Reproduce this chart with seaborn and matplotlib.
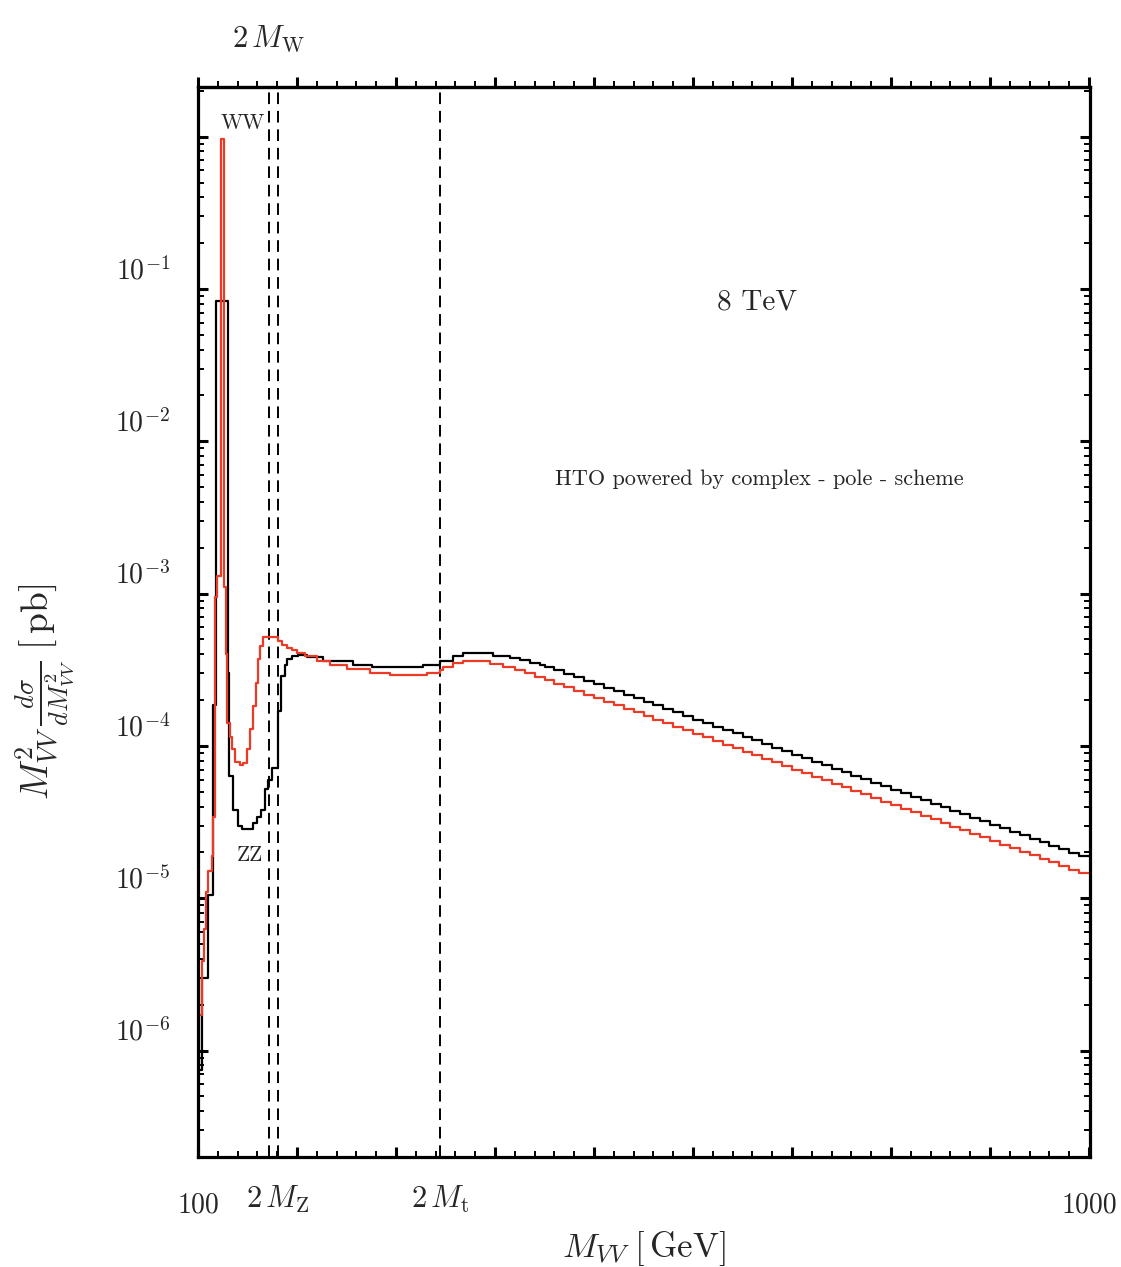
import numpy as np
import pandas as pd
import matplotlib
matplotlib.use("Agg")
from matplotlib import pyplot as plt
from matplotlib import ticker, transforms
import seaborn as sns

# ---- data (bin edges in GeV, bin contents in pb) ----
# red histogram (WW)
ww_edges_low = [100, 101.5, 104, 106, 108, 110, 114, 115.5, 117, 119, 123.5,
                126, 128, 129, 132.3, 134, 137.4, 142.4, 145.8, 149.2, 152.5,
                155.9, 158.3, 161, 162.6, 166, 181.1, 184.5, 189.6, 194.6,
                199.7, 208.1, 219.9, 233.3, 250.2, 273.7, 293.9, 331, 344.4,
                347.8, 357.9, 368, 395, 408.4]
ww_vals_low = [8.0e-7, 1.7e-6, 3.9e-6, 6.3e-6, 1.1e-5, 1.5e-5, 1.9e-5, 3.4e-5,
               9.5e-4, 1.3e-3, 0.97, 1.1e-3, 4.0e-4, 1.42e-4, 1.15e-4, 9.5e-5,
               7.9e-5, 7.5e-5, 7.7e-5, 9.5e-5, 1.3e-4, 1.83e-4, 2.6e-4, 3.7e-4,
               4.5e-4, 5.16e-4, 4.9e-4, 4.6e-4, 4.37e-4, 4.24e-4, 4.07e-4,
               3.9e-4, 3.6e-4, 3.4e-4, 3.2e-4, 3.0e-4, 2.92e-4, 3.03e-4,
               3.15e-4, 3.3e-4, 3.5e-4, 3.6e-4, 3.43e-4, 3.3e-4]
ww_tail_start = 420
ww_vals_tail = [3.17e-4, 3.01e-4, 2.85e-4, 2.70e-4, 2.56e-4, 2.42e-4, 2.29e-4,
                2.17e-4, 2.06e-4, 1.95e-4, 1.85e-4, 1.75e-4, 1.66e-4, 1.57e-4,
                1.49e-4, 1.41e-4, 1.34e-4, 1.27e-4, 1.20e-4, 1.14e-4, 1.08e-4,
                1.02e-4, 9.67e-5, 9.17e-5, 8.68e-5, 8.23e-5, 7.80e-5, 7.39e-5,
                7.00e-5, 6.63e-5, 6.28e-5, 5.95e-5, 5.64e-5, 5.34e-5, 5.06e-5,
                4.80e-5, 4.54e-5, 4.31e-5, 4.08e-5, 3.86e-5, 3.66e-5, 3.47e-5,
                3.29e-5, 3.11e-5, 2.95e-5, 2.80e-5, 2.65e-5, 2.51e-5, 2.38e-5,
                2.25e-5, 2.13e-5, 2.02e-5, 1.92e-5, 1.82e-5, 1.72e-5, 1.63e-5,
                1.54e-5, 1.46e-5]

# black histogram (ZZ)
zz_edges_low = [100, 104, 110, 115.5, 118, 130, 131, 135, 140.7, 144, 155.9,
                159.3, 163.6, 167.7, 171, 174.4, 181.1, 183.5, 187.9, 190.2,
                194.6, 201.4, 209.8, 226.6, 256.9, 275.4, 327.6, 344.4, 357.9,
                368, 398.3, 415, 425, 435, 445]
zz_vals_low = [7.5e-7, 3.0e-6, 1.05e-5, 1.85e-4, 0.083, 3.0e-4, 6.3e-5, 3.8e-5,
               3.0e-5, 2.85e-5, 3.1e-5, 3.4e-5, 3.8e-5, 5.2e-5, 6.0e-5, 7.2e-5,
               1.7e-4, 2.9e-4, 3.4e-4, 3.7e-4, 3.9e-4, 3.96e-4, 3.85e-4, 3.6e-4,
               3.4e-4, 3.3e-4, 3.4e-4, 3.6e-4, 3.9e-4, 4.07e-4, 3.9e-4, 3.8e-4,
               3.65e-4, 3.5e-4, 3.4e-4]
zz_tail_start = 450
zz_vals_tail = [3.31e-4, 3.14e-4, 2.98e-4, 2.82e-4, 2.68e-4, 2.54e-4, 2.41e-4,
                2.28e-4, 2.16e-4, 2.05e-4, 1.95e-4, 1.85e-4, 1.75e-4, 1.66e-4,
                1.57e-4, 1.49e-4, 1.42e-4, 1.34e-4, 1.27e-4, 1.21e-4, 1.14e-4,
                1.09e-4, 1.03e-4, 9.76e-5, 9.26e-5, 8.78e-5, 8.33e-5, 7.90e-5,
                7.49e-5, 7.10e-5, 6.73e-5, 6.39e-5, 6.06e-5, 5.74e-5, 5.45e-5,
                5.17e-5, 4.90e-5, 4.65e-5, 4.41e-5, 4.18e-5, 3.96e-5, 3.76e-5,
                3.56e-5, 3.38e-5, 3.20e-5, 3.04e-5, 2.88e-5, 2.73e-5, 2.59e-5,
                2.46e-5, 2.33e-5, 2.21e-5, 2.10e-5, 1.99e-5, 1.88e-5]

tail_width = 10
thresholds = [171.4, 180.5, 344.4]   # 2 M_W, 2 M_Z, 2 M_t lines as drawn

RED = "#ec3a25"


def step_frame(edges_low, vals_low, tail_start, vals_tail):
    tail_edges = tail_start + tail_width * np.arange(len(vals_tail) + 1)
    edges = np.concatenate([edges_low, tail_edges])
    vals = np.concatenate([vals_low, vals_tail, [vals_tail[-1]]])
    return pd.DataFrame({"mvv": edges, "xsec": vals})


ww_df = step_frame(ww_edges_low, ww_vals_low, ww_tail_start, ww_vals_tail)
zz_df = step_frame(zz_edges_low, zz_vals_low, zz_tail_start, zz_vals_tail)

#%%
sns.set_style("ticks")
plt.rcParams.update({
    "font.family": "serif",
    "font.serif": ["cmr10", "DejaVu Serif"],
    "mathtext.fontset": "cm",
    "axes.unicode_minus": False,
    "axes.formatter.use_mathtext": True,
})

fig = plt.figure(figsize=(11.21, 12.67), dpi=100)
ax = fig.add_axes([198 / 1121, 1 - 1157 / 1267, 892 / 1121, 1070 / 1267])
ax.set_yscale("log")

sns.lineplot(data=zz_df, x="mvv", y="xsec", drawstyle="steps-post",
             color="black", lw=1.6, estimator=None, sort=False, ax=ax)
sns.lineplot(data=ww_df, x="mvv", y="xsec", drawstyle="steps-post",
             color=RED, lw=1.6, estimator=None, sort=False, ax=ax)

for xt in thresholds:
    ax.axvline(xt, color="black", lw=1.4, ls=(0, (6, 3.5)), zorder=1)

ax.set_xlim(100, 1001)
ax.set_ylim(2.0e-7, 2.12)

# spines / ticks
for sp in ax.spines.values():
    sp.set_linewidth(2.3)
    sp.set_color("black")

ax.xaxis.set_major_locator(ticker.MultipleLocator(100))
ax.xaxis.set_minor_locator(ticker.MultipleLocator(20))
ax.xaxis.set_major_formatter(ticker.FuncFormatter(
    lambda v, p: f"{v:.0f}" if round(v) in (100, 1000) else ""))
ax.yaxis.set_major_locator(ticker.LogLocator(base=10, numticks=20))
ax.yaxis.set_minor_locator(ticker.LogLocator(base=10, subs=np.arange(2, 10),
                                             numticks=20))
ax.yaxis.set_minor_formatter(ticker.NullFormatter())
ax.yaxis.set_major_formatter(ticker.FuncFormatter(
    lambda v, p: r"$10^{%d}$" % round(np.log10(v))
    if -6 <= round(np.log10(v)) <= -1 else ""))

ax.tick_params(axis="both", which="both", direction="in", color="black")
ax.tick_params(axis="y", which="both", left=True, right=True)
ax.tick_params(axis="x", which="both", bottom=True, top=False)
ax.tick_params(which="major", length=7.5, width=2.2)
ax.tick_params(which="minor", length=4.3, width=1.4)
ax.tick_params(axis="y", which="major", labelsize=20, pad=20)
ax.tick_params(axis="x", which="major", labelsize=20, pad=25)

# top axis: ticks point outward
top = ax.secondary_xaxis("top")
top.xaxis.set_major_locator(ticker.MultipleLocator(100))
top.xaxis.set_minor_locator(ticker.MultipleLocator(20))
top.xaxis.set_major_formatter(ticker.NullFormatter())
top.tick_params(which="both", direction="out", color="black")
top.tick_params(which="major", length=7.5, width=2.2)
top.tick_params(which="minor", length=4.3, width=1.4)
top.spines["top"].set_linewidth(2.3)

# y labels sit a little above their ticks
shift = transforms.ScaledTranslation(0, 0.21, fig.dpi_scale_trans)
for lab in ax.get_yticklabels():
    lab.set_transform(lab.get_transform() + shift)

ax.set_xlabel(r"$M_{VV}\;[\,\mathrm{GeV}]$", fontsize=25, labelpad=8)
ax.set_ylabel(r"$M^2_{VV}\,\frac{d\sigma}{dM^2_{VV}}\;[\,\mathrm{pb}]$",
              fontsize=27)
ax.yaxis.set_label_coords(-0.136, 0.435)

# annotations
xb = transforms.blended_transform_factory(ax.transData, ax.transAxes)
ax.text(thresholds[0], 1.045, r"$2\,M_{\mathrm{W}}$", transform=xb,
        ha="center", va="center", fontsize=22)
ax.text(thresholds[1], -0.04, r"$2\,M_{\mathrm{Z}}$", transform=xb,
        ha="center", va="center", fontsize=22)
ax.text(thresholds[2], -0.04, r"$2\,M_{\mathrm{t}}$", transform=xb,
        ha="center", va="center", fontsize=22)
ax.text(145.5, 1.23, "WW", ha="center", va="center", fontsize=15.5)
ax.text(152.2, 1.92e-5, "ZZ", ha="center", va="center", fontsize=15.5)
ax.text(664.6, 0.082, "8 TeV", ha="center", va="center", fontsize=21)
ax.text(667, 5.65e-3, "HTO powered by complex - pole - scheme",
        ha="center", va="center", fontsize=16)

fig.savefig("out.png", dpi=100)
